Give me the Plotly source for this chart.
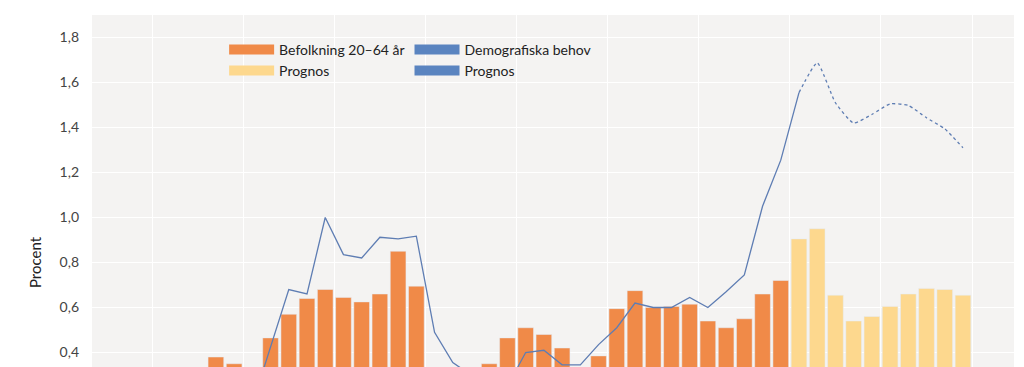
import plotly.graph_objects as go

# --- data -------------------------------------------------------------
years_bar = list(range(1992, 2024))          # actual bars
befolkning = [0.38, 0.35, 0.30, 0.465, 0.57, 0.64, 0.68, 0.645, 0.625, 0.66,
              0.85, 0.695, 0.30, 0.28, 0.32, 0.35, 0.465, 0.51, 0.48, 0.42,
              0.32, 0.385, 0.595, 0.675, 0.60, 0.605, 0.615, 0.54, 0.51, 0.55,
              0.66, 0.72]
years_prog = list(range(2024, 2034))
befolkning_prognos = [0.905, 0.95, 0.655, 0.54, 0.56, 0.605, 0.66, 0.685, 0.68, 0.655]

years_line = list(range(1992, 2025))
demografiska = [0.25, 0.20, 0.17, 0.43, 0.68, 0.66, 1.00, 0.835, 0.82, 0.912,
                0.905, 0.917, 0.49, 0.355, 0.30, 0.30, 0.25, 0.40, 0.41, 0.345,
                0.345, 0.435, 0.51, 0.62, 0.60, 0.60, 0.645, 0.60, 0.67, 0.745,
                1.05, 1.255, 1.555]
years_line_prog = list(range(2024, 2034))
demografiska_prognos = [1.555, 1.687, 1.51, 1.42, 1.458, 1.505, 1.498, 1.443, 1.394, 1.31]

grid_ticks = [1988.5 + 5 * i for i in range(10)]
y_ticks = [0.4, 0.6, 0.8, 1.0, 1.2, 1.4, 1.6, 1.8]

ORANGE = "#F08A48"
YELLOW = "#FDD88E"
BLUE_LINE = "#5E7DB3"
BLUE_LEG = "#5A84C0"
FONT = "Lato"

fig = go.Figure()
fig.add_bar(x=years_bar, y=befolkning, marker_color=ORANGE, showlegend=False,
            name="Befolkning 20–64 år")
fig.add_bar(x=years_prog, y=befolkning_prognos, marker_color=YELLOW, showlegend=False,
            name="Prognos")
fig.add_scatter(x=years_line, y=demografiska, mode="lines",
                line=dict(color=BLUE_LINE, width=1.3), showlegend=False,
                name="Demografiska behov")
fig.add_scatter(x=years_line_prog, y=demografiska_prognos, mode="lines",
                line=dict(color=BLUE_LINE, width=1.3, dash="dot", shape="spline",
                          smoothing=0.5),
                showlegend=False, name="Prognos")

# legend entries (wide colour swatches)
for name, col, grp in [("Befolkning 20–64 år", ORANGE, "a"), ("Prognos", YELLOW, "a"),
                       ("Demografiska behov", BLUE_LEG, "b"), ("Prognos", BLUE_LEG, "b")]:
    fig.add_scatter(x=[None], y=[None], mode="lines", line=dict(color=col, width=10),
                    name=name, legendgroup=grp, showlegend=True)

fig.update_layout(
    width=1024, height=544,
    margin=dict(l=84, r=18, t=7, b=42),
    paper_bgcolor="white",
    plot_bgcolor="#F4F3F2",
    barmode="overlay",
    bargap=0.14,
    separators=", ",
    font=dict(family=FONT, size=14, color="#444444"),
    legend=dict(orientation="h", traceorder="grouped", x=0.1433, y=0.962,
                xanchor="left", yanchor="top", bgcolor="rgba(0,0,0,0)",
                font=dict(size=14, color="#222222"), itemwidth=45,
                tracegroupgap=0),
    xaxis=dict(range=[1985.2, 2035.8], tickvals=grid_ticks, showticklabels=False,
               showgrid=True, gridcolor="white", gridwidth=1, zeroline=False,
               showline=False, ticks=""),
    yaxis=dict(range=[-0.3, 1.9], tickvals=y_ticks, tickformat=".1f",
               showgrid=True, gridcolor="white", gridwidth=1, zeroline=False,
               ticklabelstandoff=12,
               title=dict(text="Procent", font=dict(size=15, color="#222222"),
                          standoff=14)),
)

fig.write_html("out.html")
